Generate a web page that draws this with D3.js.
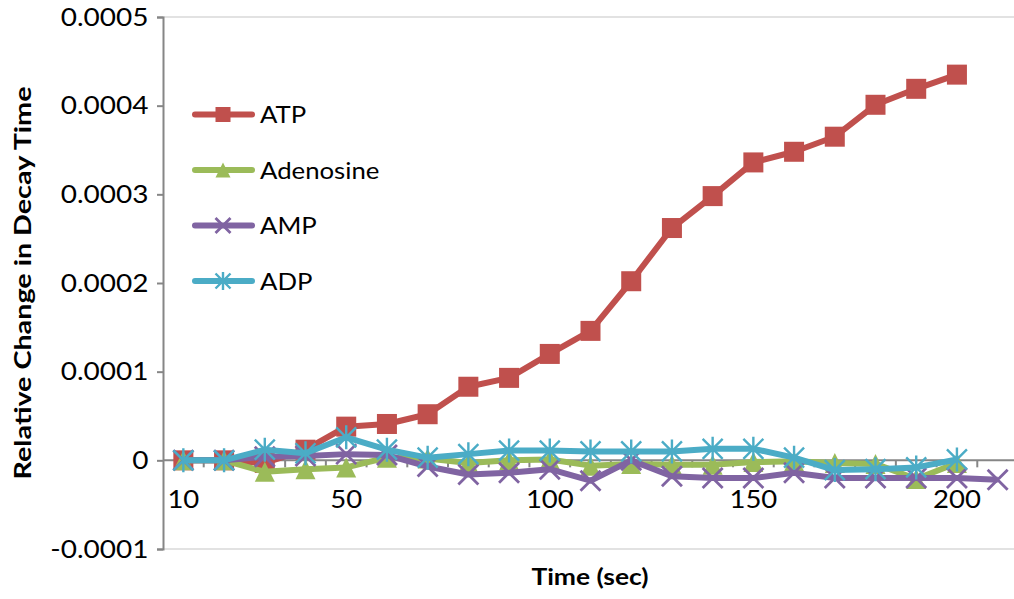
<!DOCTYPE html>
<html lang="en">
<head>
<meta charset="utf-8">
<title>Relative Change in Decay Time</title>
<script src="https://d3js.org/d3.v7.min.js"></script>
<style type="text/css">
body {
    margin: 0;
    background: #fff;
}
text {
    font-family: Lato, "Open Sans", sans-serif;
    fill: #000;
}
</style>
</head>
<body>
<div id="my_dataviz"></div>
<script>
// data
var times = [10, 20, 30, 40, 50, 60, 70, 80, 90, 100, 110, 120, 130, 140, 150, 160, 170, 180, 190, 200, 210];
var timeLabels = [10, 50, 100, 150, 200];
var yTicks = [-0.0001, 0, 0.0001, 0.0002, 0.0003, 0.0004, 0.0005];

var atp = [0, 0, -0.000003, 0.000012, 0.000038, 0.000041, 0.000052, 0.000083, 0.000093, 0.00012,
           0.000146, 0.000202, 0.000262, 0.000298, 0.000336, 0.000348, 0.000365, 0.000401, 0.000419, 0.000435];
var adenosine = [0, 0, -0.000013, -0.00001, -0.000008, 0.000003, 0.000002, -0.000003, 0, 0.000001,
                 -0.000006, -0.000004, -0.000005, -0.000005, -0.000002, -0.000001, -0.000003, -0.000004, -0.000021, -0.000003];
var amp = [0, 0, 0.000004, 0.000005, 0.000007, 0.000006, -0.000007, -0.000016, -0.000014, -0.00001,
           -0.000023, 0, -0.000018, -0.00002, -0.00002, -0.000014, -0.00002, -0.00002, -0.00002, -0.00002, -0.000022];
var adp = [0, 0, 0.000012, 0.000008, 0.000026, 0.000012, 0.000003, 0.000007, 0.000011, 0.000011,
           0.00001, 0.00001, 0.00001, 0.000013, 0.000013, 0.000003, -0.000011, -0.00001, -0.000008, 0.000001];

var series = [
  {name: "ATP", values: atp, color: "#C0504D", marker: "square"},
  {name: "Adenosine", values: adenosine, color: "#9BBB59", marker: "triangle"},
  {name: "AMP", values: amp, color: "#8064A2", marker: "x"},
  {name: "ADP", values: adp, color: "#4BACC6", marker: "star"}
];

var W = 1014, H = 599;
var plot = {left: 163, right: 1018, top: 17, bottom: 549};

var svg = d3.select("#my_dataviz")
  .append("svg")
    .attr("width", W)
    .attr("height", H);

var x = d3.scaleBand()
  .domain(times)
  .range([plot.left, plot.right])
  .paddingInner(0)
  .paddingOuter(0);

var y = d3.scaleLinear()
  .domain([-0.0001, 0.0005])
  .range([plot.bottom, plot.top]);

// widen text a little (the original font runs wider than Lato)
function placeText(sel, tx, ty, k, rot) {
  sel.attr("transform", "translate(" + tx + "," + ty + ")" + (rot ? " rotate(" + rot + ")" : "") +
           " scale(" + k + ",1)");
}

// plot area border (light)
svg.append("line")
  .attr("x1", plot.left).attr("x2", W)
  .attr("y1", plot.top).attr("y2", plot.top)
  .attr("stroke", "#d9d9d9").attr("stroke-width", 1.5);
svg.append("line")
  .attr("x1", plot.left).attr("x2", W)
  .attr("y1", plot.bottom).attr("y2", plot.bottom)
  .attr("stroke", "#d9d9d9").attr("stroke-width", 1.5);

// Y axis
var yAxis = svg.append("g")
  .attr("transform", "translate(" + plot.left + ",0)")
  .call(d3.axisLeft(y).tickValues(yTicks).tickSize(6).tickPadding(7)
        .tickFormat(function(d) { return d === 0 ? "0" : d.toFixed(4); }));
yAxis.select(".domain").attr("stroke", "#868686").attr("stroke-width", 2);
yAxis.selectAll(".tick line").attr("stroke", "#868686").attr("stroke-width", 2);
yAxis.selectAll(".tick text")
  .attr("font-size", 25)
  .attr("font-family", "Lato, sans-serif")
  .attr("fill", "#000")
  .attr("transform", "scale(1.12,1)");

// X axis crossing at zero, ticks between categories
var xg = svg.append("g")
  .attr("transform", "translate(0," + y(0) + ")");
xg.append("line")
  .attr("x1", plot.left).attr("x2", W)
  .attr("stroke", "#868686").attr("stroke-width", 2);
xg.selectAll(".xtick")
  .data(times)
  .enter()
  .append("line")
    .attr("class", "xtick")
    .attr("x1", function(d) { return x(d) + x.bandwidth(); })
    .attr("x2", function(d) { return x(d) + x.bandwidth(); })
    .attr("y1", 0).attr("y2", 7)
    .attr("stroke", "#868686").attr("stroke-width", 2);
xg.selectAll(".xlabel")
  .data(timeLabels)
  .enter()
  .append("text")
    .attr("class", "xlabel")
    .attr("text-anchor", "middle")
    .attr("font-size", 25)
    .each(function(d) { placeText(d3.select(this), x(d) + x.bandwidth() / 2, 48, 1.1); })
    .text(function(d) { return d; });

// axis titles
svg.append("text")
  .attr("text-anchor", "middle")
  .attr("font-size", 23)
  .attr("font-weight", "bold")
  .call(placeText, 31, (plot.top + plot.bottom) / 2, 1.25, -90)
  .text("Relative Change in Decay Time");
svg.append("text")
  .attr("text-anchor", "middle")
  .attr("font-size", 23)
  .attr("font-weight", "bold")
  .call(placeText, 590, 585, 1.15)
  .text("Time (sec)");

// marker drawing
function drawMarker(g, type, color, s) {
  if (type === "square") {
    g.append("rect")
      .attr("x", -s).attr("y", -s)
      .attr("width", 2 * s).attr("height", 2 * s)
      .attr("fill", color);
  } else if (type === "triangle") {
    g.append("path")
      .attr("d", "M0," + (-s) + "L" + s + "," + s + "L" + (-s) + "," + s + "Z")
      .attr("fill", color);
  } else if (type === "x") {
    g.append("path")
      .attr("d", "M" + (-s) + "," + (-s) + "L" + s + "," + s + "M" + (-s) + "," + s + "L" + s + "," + (-s))
      .attr("stroke", color).attr("stroke-width", 2.8).attr("fill", "none");
  } else {
    g.append("path")
      .attr("d", "M" + (-s) + "," + (-s) + "L" + s + "," + s + "M" + (-s) + "," + s + "L" + s + "," + (-s) +
                 "M0," + (-s * 1.2) + "L0," + (s * 1.2))
      .attr("stroke", color).attr("stroke-width", 2.4).attr("fill", "none");
  }
}

var line = d3.line()
  .x(function(d, i) { return x(times[i]) + x.bandwidth() / 2; })
  .y(function(d) { return y(d); });

series.forEach(function(s) {
  svg.append("path")
    .datum(s.values)
    .attr("d", line)
    .attr("fill", "none")
    .attr("stroke", s.color)
    .attr("stroke-width", 6)
    .attr("stroke-linejoin", "round");

  svg.selectAll(".m-" + s.marker)
    .data(s.values)
    .enter()
    .append("g")
      .attr("class", "m-" + s.marker)
      .attr("transform", function(d, i) {
        return "translate(" + (x(times[i]) + x.bandwidth() / 2) + "," + y(d) + ")";
      })
      .each(function() { drawMarker(d3.select(this), s.marker, s.color, 10); });
});

// legend
var legend = svg.selectAll(".legend")
  .data(series)
  .enter()
  .append("g")
    .attr("class", "legend")
    .attr("transform", function(d, i) { return "translate(195," + (114.5 + i * 55.5) + ")"; });
legend.append("line")
  .attr("x1", 0).attr("x2", 57)
  .attr("stroke", function(d) { return d.color; })
  .attr("stroke-width", 6)
  .attr("stroke-linecap", "round");
legend.append("g")
  .attr("transform", "translate(28,0)")
  .each(function(d) { drawMarker(d3.select(this), d.marker, d.color, 7.5); });
legend.append("text")
  .attr("font-size", 23)
  .each(function() { placeText(d3.select(this), 65, 8.5, 1.12); })
  .text(function(d) { return d.name; });
</script>
</body>
</html>
